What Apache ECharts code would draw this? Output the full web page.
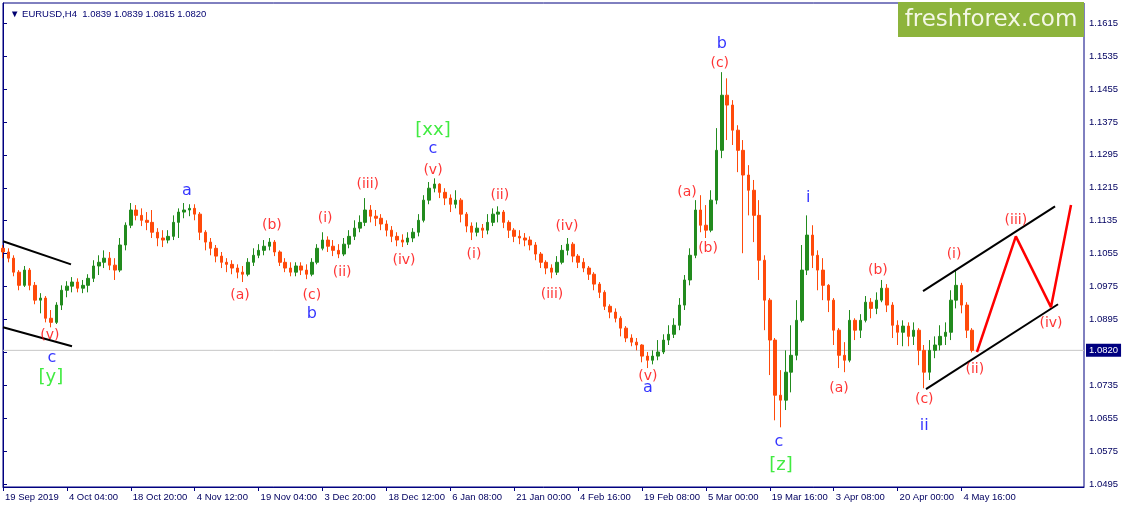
<!DOCTYPE html>
<html>
<head>
<meta charset="utf-8">
<script src="https://cdn.jsdelivr.net/npm/echarts@6/dist/echarts.min.js"></script>
<style>html,body{margin:0;padding:0;background:#fff}#c{width:1125px;height:508px}</style>
</head>
<body>
<div id="c"></div>
<script>
// ---- DATA ----
const symbolTitle = '\u25BC EURUSD,H4  1.0839 1.0839 1.0815 1.0820';
const tickLabels = ['19 Sep 2019','4 Oct 04:00','18 Oct 20:00','4 Nov 12:00','19 Nov 04:00','3 Dec 20:00','18 Dec 12:00','6 Jan 08:00','21 Jan 00:00','4 Feb 16:00','19 Feb 08:00','5 Mar 00:00','19 Mar 16:00','3 Apr 08:00','20 Apr 00:00','4 May 16:00'];
const barsPerLabel = 12;
const totalSlots = 204;
const yTicks = [1.0495,1.0575,1.0655,1.0735,1.0815,1.0895,1.0975,1.1055,1.1135,1.1215,1.1295,1.1375,1.1455,1.1535,1.1615];
const currentPrice = 1.0820;
// [open, close, low, high]
const ohlc = [
[1.1068,1.1059,1.1044,1.1076],[1.1059,1.1044,1.1034,1.1068],[1.1044,1.1010,1.1000,1.1051],[1.1010,1.0978,1.0966,1.1015],
[1.0978,1.1015,1.0974,1.1025],[1.1015,1.0978,1.0966,1.1020],[1.0978,1.0942,1.0932,1.0986],[1.0942,1.0947,1.0910,1.0959],
[1.0947,1.0898,1.0888,1.0952],[1.0898,1.0888,1.0876,1.0918],[1.0888,1.0930,1.0884,1.0937],[1.0930,1.0966,1.0918,1.0978],
[1.0966,1.0976,1.0949,1.0988],[1.0976,1.0986,1.0961,1.0998],[1.0986,1.0971,1.0961,1.0995],[1.0971,1.0978,1.0959,1.0991],
[1.0978,1.0995,1.0961,1.1005],[1.0995,1.1025,1.0986,1.1039],[1.1025,1.1034,1.1003,1.1051],[1.1034,1.1044,1.1020,1.1063],
[1.1044,1.1027,1.1015,1.1059],[1.1027,1.1015,1.0991,1.1044],[1.1015,1.1076,1.1010,1.1093],[1.1076,1.1124,1.1063,1.1131],
[1.1124,1.1161,1.1117,1.1178],[1.1161,1.1148,1.1136,1.1173],[1.1148,1.1136,1.1122,1.1165],[1.1136,1.1131,1.1112,1.1156],
[1.1131,1.1107,1.1093,1.1161],[1.1107,1.1093,1.1073,1.1117],[1.1093,1.1088,1.1071,1.1112],[1.1088,1.1097,1.1080,1.1112],
[1.1097,1.1131,1.1088,1.1148],[1.1131,1.1156,1.1093,1.1165],[1.1156,1.1161,1.1141,1.1178],[1.1161,1.1165,1.1146,1.1175],
[1.1165,1.1151,1.1136,1.1175],[1.1151,1.1107,1.1088,1.1156],[1.1107,1.1083,1.1063,1.1112],[1.1083,1.1068,1.1051,1.1093],
[1.1068,1.1049,1.1034,1.1076],[1.1049,1.1034,1.1020,1.1059],[1.1034,1.1029,1.1010,1.1044],[1.1029,1.1020,1.1005,1.1039],
[1.1020,1.1010,1.0995,1.1029],[1.1010,1.1005,1.0986,1.1025],[1.1005,1.1034,1.1000,1.1044],[1.1034,1.1051,1.1025,1.1068],
[1.1051,1.1063,1.1044,1.1078],[1.1063,1.1073,1.1051,1.1088],[1.1073,1.1083,1.1063,1.1093],[1.1083,1.1059,1.1049,1.1088],
[1.1059,1.1034,1.1025,1.1063],[1.1034,1.1020,1.1010,1.1044],[1.1020,1.1010,1.1000,1.1034],[1.1010,1.1025,1.1000,1.1034],
[1.1025,1.1015,1.1003,1.1034],[1.1015,1.1005,1.0993,1.1029],[1.1005,1.1034,1.1000,1.1044],[1.1034,1.1068,1.1029,1.1078],
[1.1068,1.1088,1.1063,1.1107],[1.1088,1.1073,1.1059,1.1097],[1.1073,1.1063,1.1049,1.1088],[1.1063,1.1054,1.1044,1.1078],
[1.1054,1.1078,1.1049,1.1093],[1.1078,1.1097,1.1068,1.1112],[1.1097,1.1117,1.1088,1.1136],[1.1117,1.1131,1.1107,1.1148],
[1.1131,1.1161,1.1122,1.1190],[1.1161,1.1146,1.1131,1.1173],[1.1146,1.1141,1.1122,1.1161],[1.1141,1.1127,1.1112,1.1151],
[1.1127,1.1112,1.1097,1.1136],[1.1112,1.1097,1.1083,1.1122],[1.1097,1.1088,1.1073,1.1107],[1.1088,1.1083,1.1071,1.1102],
[1.1083,1.1093,1.1076,1.1107],[1.1093,1.1107,1.1083,1.1117],[1.1107,1.1136,1.1097,1.1151],[1.1136,1.1185,1.1131,1.1197],
[1.1185,1.1214,1.1175,1.1229],[1.1214,1.1224,1.1204,1.1238],[1.1224,1.1204,1.1190,1.1226],[1.1204,1.1190,1.1173,1.1214],
[1.1190,1.1175,1.1156,1.1199],[1.1175,1.1185,1.1165,1.1209],[1.1185,1.1151,1.1131,1.1190],[1.1151,1.1122,1.1107,1.1156],
[1.1122,1.1107,1.1088,1.1131],[1.1107,1.1117,1.1097,1.1131],[1.1117,1.1112,1.1093,1.1127],[1.1112,1.1131,1.1102,1.1151],
[1.1131,1.1151,1.1122,1.1165],[1.1151,1.1156,1.1131,1.1170],[1.1156,1.1131,1.1117,1.1161],[1.1131,1.1112,1.1093,1.1136],
[1.1112,1.1097,1.1083,1.1117],[1.1097,1.1093,1.1078,1.1112],[1.1093,1.1088,1.1073,1.1105],[1.1088,1.1076,1.1063,1.1097],
[1.1076,1.1054,1.1039,1.1083],[1.1054,1.1034,1.1020,1.1059],[1.1034,1.1020,1.1005,1.1039],[1.1020,1.1010,1.0995,1.1029],
[1.1010,1.1034,1.1003,1.1049],[1.1034,1.1063,1.1029,1.1076],[1.1063,1.1078,1.1051,1.1093],[1.1078,1.1049,1.1034,1.1083],
[1.1049,1.1034,1.1020,1.1054],[1.1034,1.1020,1.1010,1.1044],[1.1020,1.1005,1.0991,1.1025],[1.1005,1.0981,1.0966,1.1010],
[1.0981,1.0961,1.0947,1.0986],[1.0961,1.0927,1.0918,1.0966],[1.0927,1.0913,1.0898,1.0932],[1.0913,1.0898,1.0888,1.0922],
[1.0898,1.0874,1.0854,1.0903],[1.0874,1.0850,1.0840,1.0879],[1.0850,1.0840,1.0830,1.0859],[1.0840,1.0833,1.0820,1.0850],
[1.0833,1.0806,1.0791,1.0835],[1.0806,1.0796,1.0777,1.0816],[1.0796,1.0806,1.0786,1.0820],[1.0806,1.0816,1.0796,1.0845],
[1.0816,1.0845,1.0811,1.0859],[1.0845,1.0859,1.0833,1.0881],[1.0859,1.0881,1.0850,1.0898],[1.0881,1.0930,1.0869,1.0947],
[1.0930,1.0991,1.0918,1.1003],[1.0991,1.1051,1.0978,1.1068],[1.1051,1.1161,1.1044,1.1185],[1.1161,1.1124,1.1107,1.1197],
[1.1124,1.1112,1.1093,1.1173],[1.1112,1.1185,1.1107,1.1209],[1.1185,1.1306,1.1175,1.1360],[1.1306,1.1440,1.1287,1.1496],
[1.1440,1.1416,1.1331,1.1481],[1.1416,1.1355,1.1319,1.1428],[1.1355,1.1306,1.1253,1.1367],[1.1306,1.1246,1.1056,1.1331],
[1.1246,1.1209,1.1148,1.1270],[1.1209,1.1148,1.1083,1.1234],[1.1148,1.1039,1.0991,1.1185],[1.1039,1.0942,1.0869,1.1051],
[1.0942,1.0845,1.0760,1.0947],[1.0845,1.0711,1.0650,1.0850],[1.0711,1.0699,1.0633,1.0772],[1.0699,1.0767,1.0675,1.0820],
[1.0767,1.0808,1.0718,1.0881],[1.0808,1.0893,1.0796,1.0942],[1.0893,1.1015,1.0888,1.1076],[1.1015,1.1100,1.1003,1.1148],
[1.1100,1.1051,1.1020,1.1124],[1.1051,1.1015,1.0966,1.1063],[1.1015,1.0978,1.0942,1.1044],[1.0978,1.0942,1.0913,1.0981],
[1.0942,1.0869,1.0833,1.0947],[1.0869,1.0808,1.0777,1.0874],[1.0808,1.0796,1.0767,1.0840],[1.0796,1.0893,1.0791,1.0918],
[1.0893,1.0869,1.0845,1.0898],[1.0869,1.0893,1.0850,1.0908],[1.0893,1.0937,1.0888,1.0952],[1.0937,1.0922,1.0898,1.0947],
[1.0922,1.0942,1.0908,1.0961],[1.0942,1.0971,1.0937,1.0991],[1.0971,1.0930,1.0913,1.0981],[1.0930,1.0881,1.0850,1.0937],
[1.0881,1.0864,1.0833,1.0893],[1.0864,1.0879,1.0830,1.0893],[1.0879,1.0854,1.0830,1.0888],[1.0854,1.0869,1.0833,1.0888],
[1.0869,1.0820,1.0784,1.0874],[1.0820,1.0767,1.0728,1.0833],[1.0767,1.0820,1.0748,1.0845],[1.0820,1.0833,1.0801,1.0854],
[1.0833,1.0854,1.0820,1.0881],[1.0854,1.0864,1.0833,1.0888],[1.0864,1.0942,1.0845,1.0966],[1.0942,1.0978,1.0922,1.1015],
[1.0978,1.0930,1.0910,1.0984],[1.0930,1.0869,1.0850,1.0937],[1.0869,1.0820,1.0815,1.0874]
];
// wave labels: [text, bar position, price]
const redLabels = [
['(v)',8.8,1.0857],['(a)',44.5,1.0954],['(b)',50.5,1.1124],['(c)',58.0,1.0954],['(i)',60.5,1.1141],
['(ii)',63.7,1.1010],['(iii)',68.5,1.1224],['(iv)',75.3,1.1039],['(v)',80.75,1.1258],['(i)',88.45,1.1054],
['(ii)',93.3,1.1197],['(iii)',103.1,1.0957],['(iv)',105.9,1.1122],['(v)',121.1,1.0757],['(a)',128.45,1.1204],
['(b)',132.4,1.1068],['(c)',134.6,1.1518],['(a)',157.0,1.0728],['(b)',164.3,1.1015],['(c)',173.0,1.0701],
['(i)',178.6,1.1054],['(ii)',182.5,1.0774],['(iii)',190.2,1.1136],['(iv)',196.8,1.0886]
];
const blueLabels = [
['c',9.2,1.0803],['a',34.55,1.1207],['b',58.0,1.0908],['c',80.75,1.1309],['a',121.1,1.0728],
['b',135.0,1.1564],['c',145.7,1.0597],['i',151.2,1.1190],['ii',173.0,1.0636]
];
const greenLabels = [
['[y]',9.0,1.0755],['[xx]',80.75,1.1355],['[z]',146.1,1.0541]
];
// trend lines: [bar position, price]
const channelLeftUpper = [[0,1.1085],[12.77,1.1029]];
const channelLeftLower = [[0,1.0876],[12.96,1.0830]];
const channelRightUpper = [[172.77,1.0964],[197.56,1.1170]];
const channelRightLower = [[173.33,1.0726],[198.12,1.0932]];
const projection = [[182.9,1.0816],[190.2,1.1097],[196.8,1.0925],[200.56,1.1173]];

// ---- CHART ----
const categories = [];
for (let i = 0; i < totalSlots; i++) categories.push(String(i));
const showTick = (idx) => idx % barsPerLabel === 0 && idx / barsPerLabel < tickLabels.length;
const NAVY = '#000080';
const AX_FONT = 'Liberation Sans';

function labelSeries(list, color, size) {
  return {
    type: 'scatter', xAxisIndex: 1, yAxisIndex: 0, symbolSize: 0, z: 10, silent: true,
    data: list.map(d => ({ value: [d[1], d[2]], name: d[0] })),
    label: { show: true, position: 'inside', formatter: p => p.name, color: color,
      fontSize: size, fontFamily: 'DejaVu Sans' }
  };
}
function lineSeries(pts, color, width) {
  return { type: 'line', xAxisIndex: 1, yAxisIndex: 0, data: pts, symbol: 'none', silent: true, z: 8,
    lineStyle: { color: color, width: width } };
}

const chart = echarts.init(document.getElementById('c'), null, { renderer: 'canvas' });
chart.setOption({
  animation: false,
  backgroundColor: '#ffffff',
  title: { text: symbolTitle, left: 5, top: 4,
    textStyle: { fontSize: 9.5, fontWeight: 'normal', color: '#000070', fontFamily: AX_FONT } },
  grid: { left: 3, right: 41, top: 3, bottom: 21, show: true, borderColor: NAVY, borderWidth: 1 },
  xAxis: [{
    type: 'category', data: categories, boundaryGap: false, position: 'bottom',
    axisLine: { lineStyle: { color: NAVY, width: 1 } },
    axisTick: { show: true, interval: showTick, length: 4, lineStyle: { color: NAVY } },
    axisLabel: { interval: showTick, hideOverlap: false, align: 'left', padding: [0, 0, 0, 2], margin: 5,
      formatter: (v, idx) => tickLabels[Math.round(idx / barsPerLabel)] || '',
      color: '#000060', fontSize: 9.5, fontFamily: AX_FONT },
    splitLine: { show: false }
  }, {
    type: 'value', min: 0, max: totalSlots - 1, show: false
  }],
  yAxis: {
    type: 'value', position: 'right', min: 1.0488, max: 1.1664, scale: true,
    axisLine: { show: true, lineStyle: { color: NAVY } },
    axisTick: { show: true, length: 4, customValues: yTicks, lineStyle: { color: NAVY } },
    axisLabel: { customValues: yTicks, formatter: v => v.toFixed(4), margin: 5,
      color: '#000060', fontSize: 9.5, fontFamily: AX_FONT },
    splitLine: { show: false }
  },
  series: [
    {
      type: 'line', xAxisIndex: 1, yAxisIndex: 0, symbol: 'none', silent: true, z: 2,
      data: [[0, currentPrice], [totalSlots - 1, currentPrice]],
      lineStyle: { color: '#c8c8c8', width: 1 },
      endLabel: { show: true, distance: 2, formatter: () => currentPrice.toFixed(4),
        backgroundColor: NAVY, color: '#ffffff', padding: [2, 3, 1, 3], fontSize: 9.5, fontFamily: AX_FONT }
    },
    {
      type: 'candlestick', data: ohlc, barWidth: 3, z: 5,
      itemStyle: { color: '#228b1e', color0: '#ff4a0a', borderColor: '#228b1e', borderColor0: '#ff4a0a', borderWidth: 1 }
    },
    lineSeries(channelLeftUpper, '#000000', 2),
    lineSeries(channelLeftLower, '#000000', 2),
    lineSeries(channelRightUpper, '#000000', 2),
    lineSeries(channelRightLower, '#000000', 2),
    lineSeries(projection, '#ff0000', 2.5),
    labelSeries(redLabels, '#ff0000', 14),
    labelSeries(blueLabels, '#0000ff', 16),
    labelSeries(greenLabels, '#11e611', 18)
  ],
  graphic: [{
    type: 'group', left: 898, top: 2, z: 100,
    children: [
      { type: 'rect', shape: { x: 0, y: 0, width: 186, height: 35 }, style: { fill: '#8db43c' } },
      { type: 'text', x: 93, y: 18, style: { text: 'freshforex.com', fill: '#f4f7e6', fontSize: 23,
        fontFamily: 'DejaVu Sans', align: 'center', verticalAlign: 'middle' } }
    ]
  }]
});
</script>
</body>
</html>
